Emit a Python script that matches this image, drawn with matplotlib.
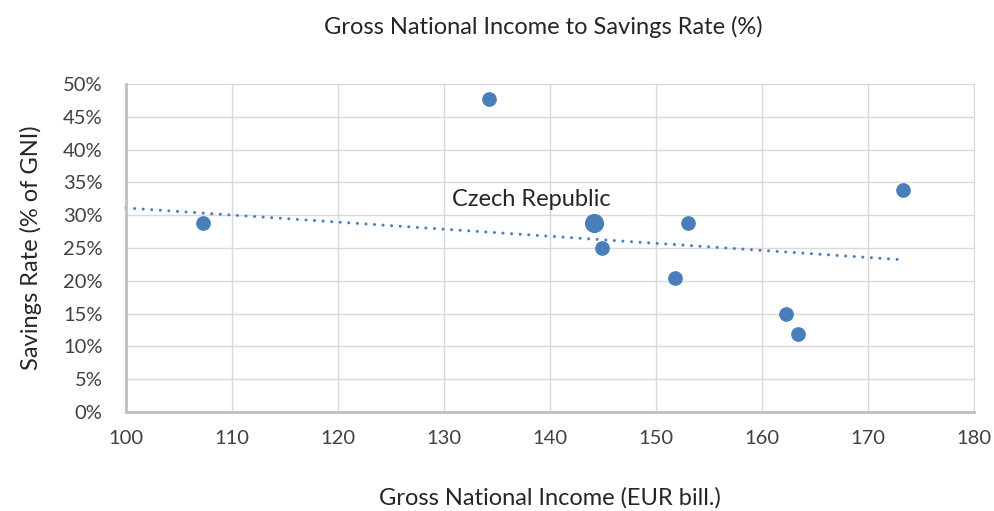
import matplotlib.pyplot as plt
from matplotlib.ticker import FuncFormatter

# data
gni = [107.3, 134.2, 144.9, 153.0, 151.8, 162.3, 163.4, 173.3]
savings = [28.8, 47.7, 25.0, 28.8, 20.4, 14.9, 11.9, 33.8]
czech_gni = [144.2]
czech_savings = [28.8]
trend_x = [100, 173.3]
trend_y = [31.1, 23.2]
x_ticks = [100, 110, 120, 130, 140, 150, 160, 170, 180]
y_ticks = [0, 5, 10, 15, 20, 25, 30, 35, 40, 45, 50]

plt.rcParams['font.family'] = ['Lato', 'DejaVu Sans']
blue = '#4a7ebb'
txt = '#262626'

fig = plt.figure(figsize=(9.94, 5.11), dpi=100)
ax = fig.add_axes([0.1268, 0.1937, 0.853, 0.642])

ax.plot(trend_x, trend_y, linestyle=(0, (0.01, 2.8)), color=blue, lw=2.2,
        dash_capstyle='round', zorder=2, clip_on=False)
ax.scatter(gni, savings, s=112, color=blue, zorder=3, linewidths=0)
ax.scatter(czech_gni, czech_savings, s=190, color=blue, zorder=3, linewidths=0)
ax.text(130.8, 31.4, 'Czech Republic', fontsize=17, color=txt)

ax.set_xlim(100, 180)
ax.set_ylim(0, 50)
ax.set_xticks(x_ticks)
ax.set_yticks(y_ticks)
ax.yaxis.set_major_formatter(FuncFormatter(lambda v, p: '%d%%' % v))
ax.grid(True, color='#d9d9d9', lw=1)
ax.set_axisbelow(True)
ax.tick_params(length=0, labelsize=14.5, colors='#404040')
ax.tick_params(axis='y', pad=17)
ax.tick_params(axis='x', pad=13)
for s in ['left', 'bottom']:
    ax.spines[s].set_color('#bfbfbf')
    ax.spines[s].set_linewidth(2)
ax.spines['top'].set_visible(False)
ax.spines['right'].set_color('#d9d9d9')

ax.set_xlabel('Gross National Income (EUR bill.)', fontsize=17, color=txt, labelpad=29)
ax.set_ylabel('Savings Rate (% of GNI)', fontsize=17, color=txt, labelpad=15)
fig.text(0.547, 0.947, 'Gross National Income to Savings Rate (%)', fontsize=17,
         color=txt, ha='center', va='center')

fig.savefig('out.png', dpi=100)
